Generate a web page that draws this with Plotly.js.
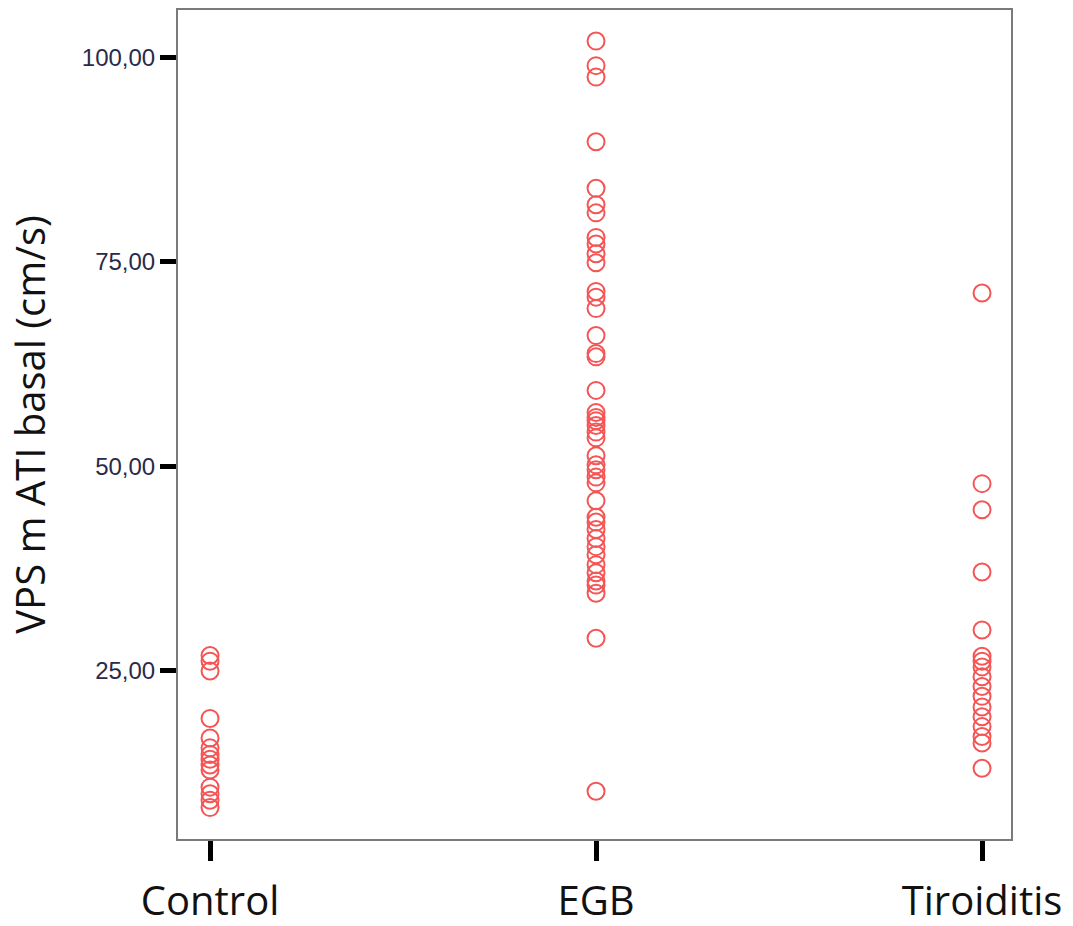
<!DOCTYPE html>
<html>
<head>
<meta charset="utf-8">
<script src="https://cdn.plot.ly/plotly-3.0.1.min.js"></script>
<style>html,body{margin:0;padding:0;background:#fff;}#chart{width:1073px;height:926px;}</style>
</head>
<body>
<div id="chart"></div>
<script>
const categories = ["Control", "EGB", "Tiroiditis"];
const controlValues = [26.9, 26.2, 25.0, 19.2, 16.8, 15.6, 14.8, 14.2, 13.5, 12.9, 10.8, 10.0, 9.2, 8.3];
const egbValues = [102.0, 99.0, 97.6, 89.7, 84.0, 82.0, 81.0, 78.0, 77.2, 76.0, 74.9, 71.4, 70.7, 69.3,
  66.0, 63.8, 63.4, 59.3, 56.6, 56.0, 55.6, 55.0, 54.2, 53.5, 51.3, 50.2, 49.6, 48.7, 48.0, 45.8,
  43.8, 43.2, 42.3, 41.2, 40.2, 39.2, 38.0, 37.0, 36.0, 35.5, 34.5, 29.0, 10.3];
const tiroiditisValues = [71.2, 47.9, 44.7, 37.1, 30.0, 26.8, 26.2, 25.5, 24.3, 23.1, 21.9, 20.6, 19.4, 18.2, 17.0, 16.2, 13.1];
const yTickVals = [25, 50, 75, 100];
const yTickText = ["25,00", "50,00", "75,00", "100,00"];
const yTitle = "VPS m ATI basal (cm/s)";

const groups = [controlValues, egbValues, tiroiditisValues];
const xs = [], ys = [];
groups.forEach((vals, i) => { vals.forEach(v => { xs.push(categories[i]); ys.push(v); }); });

const trace = {
  type: 'scatter', mode: 'markers', x: xs, y: ys,
  marker: {symbol: 'circle-open', size: 17, color: 'rgb(245,85,85)', line: {width: 2, color: 'rgb(245,85,85)'}},
  hoverinfo: 'x+y'
};

const layout = {
  width: 1073, height: 926,
  margin: {l: 178, r: 62, t: 10, b: 87},
  paper_bgcolor: '#ffffff', plot_bgcolor: '#ffffff',
  showlegend: false,
  xaxis: {
    type: 'category', categoryarray: categories, range: [-0.083, 2.075],
    showgrid: false, zeroline: false,
    showline: true, mirror: true, linecolor: '#7a7a7a', linewidth: 2,
    ticks: 'outside', ticklen: 20, tickwidth: 5, tickcolor: '#000',
    ticklabelstandoff: 6,
    tickfont: {family: 'Open Sans', size: 40, color: '#111'},
    automargin: false
  },
  yaxis: {
    range: [4.46, 105.8],
    tickvals: yTickVals, ticktext: yTickText,
    showgrid: false, zeroline: false,
    showline: true, mirror: true, linecolor: '#7a7a7a', linewidth: 2,
    ticks: 'outside', ticklen: 16, tickwidth: 5, tickcolor: '#000',
    tickfont: {family: 'Liberation Sans, Arial', size: 24, color: '#2a2a4a'},
    title: {text: yTitle, font: {family: 'Open Sans', size: 40, color: '#111'}, standoff: 24},
    automargin: false
  }
};

Plotly.newPlot('chart', [trace], layout, {displayModeBar: false, staticPlot: true});
</script>
</body>
</html>
